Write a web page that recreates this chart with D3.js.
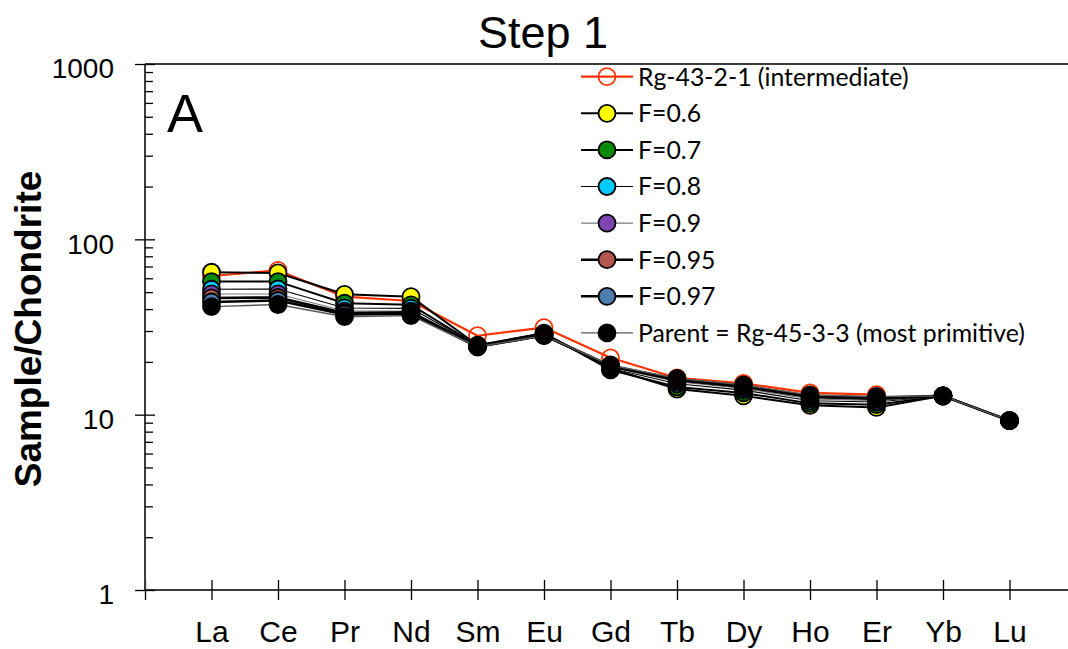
<!DOCTYPE html>
<html>
<head>
<meta charset="utf-8">
<script src="https://cdn.jsdelivr.net/npm/d3@7"></script>
<style>
  body { margin: 0; background: #fff; }
  svg text { font-family: "Liberation Sans", Arial, Helvetica, sans-serif; fill: #000; }
  .legend text { font-family: Lato, "Liberation Sans", sans-serif; }
</style>
</head>
<body>
<svg id="chart" width="1068" height="649"></svg>
<script>
// Rare earth elements on the x axis
const elements = ["La", "Ce", "Pr", "Nd", "Sm", "Eu", "Gd", "Tb", "Dy", "Ho", "Er", "Yb", "Lu"];

// Chondrite-normalised concentrations
const rg43 =   [61.8, 66.5, 47.1, 44.5, 28.2, 31.4, 21.1, 16.2, 15.1, 13.3, 13.0, null, null];
const f060 =   [64.9, 64.3, 48.6, 47.1, 24.9, 29.0, 18.3, 14.0, 12.8, 11.3, 11.0, 12.8, 9.25];
const f070 =   [57.4, 57.4, 43.2, 42.3, 24.8, 29.2, 18.0, 14.4, 13.3, 11.6, 11.4, 12.8, 9.25];
const f080 =   [51.9, 52.1, 40.6, 40.4, 24.7, 28.9, 18.4, 15.0, 13.8, 12.0, 11.8, 12.8, 9.25];
const f090 =   [48.8, 48.8, 39.0, 39.0, 24.6, 28.6, 18.7, 15.4, 14.1, 12.3, 12.0, 12.8, 9.25];
const f095 =   [46.3, 46.6, 38.0, 38.3, 24.5, 28.4, 18.9, 15.7, 14.4, 12.6, 12.3, 12.8, 9.25];
const f097 =   [43.9, 44.8, 37.3, 37.5, 24.4, 28.3, 19.0, 15.9, 14.6, 12.75, 12.5, 12.8, 9.25];
const parent = [41.3, 42.5, 36.2, 36.7, 24.4, 28.2, 19.2, 16.1, 14.8, 12.95, 12.7, 12.8, 9.25];

const seriesLabels = [
  "Rg-43-2-1 (intermediate)", "F=0.6", "F=0.7", "F=0.8", "F=0.9",
  "F=0.95", "F=0.97", "Parent = Rg-45-3-3 (most primitive)"
];
const yTickValues = [1, 10, 100, 1000];

// Styles for each series: marker fill, marker stroke, line colour, line width
const styles = [
  { fill: "none",    stroke: "#FF3300", line: "#FF3300", lw: 2.2, open: true },
  { fill: "#FFFF00", stroke: "#000",    line: "#000",    lw: 2.0 },
  { fill: "#0A8A0A", stroke: "#000",    line: "#000",    lw: 2.0 },
  { fill: "#00CCFF", stroke: "#000",    line: "#000",    lw: 1.1 },
  { fill: "#7E44B2", stroke: "#000",    line: "#7a7a7a", lw: 1.1 },
  { fill: "#B2564E", stroke: "#000",    line: "#000",    lw: 2.6 },
  { fill: "#4E7DB0", stroke: "#000",    line: "#000",    lw: 2.6 },
  { fill: "#000000", stroke: "#000",    line: "#5a5a5a", lw: 1.4 }
];

const seriesValues = [rg43, f060, f070, f080, f090, f095, f097, parent];
const series = seriesValues.map((vals, i) => ({
  label: seriesLabels[i],
  style: styles[i],
  points: vals.map((v, j) => ({ pos: j + 1, v }))
}));

const svg = d3.select("#chart");

// Scales: categories sit at 1..13 on a linear axis that starts at the y axis
const x = d3.scaleLinear().domain([0, 14]).range([145, 1076]);
const y = d3.scaleLog().domain([1, 1000]).range([590, 64]);
const right = 1068;

// Frame lines (bottom axis, top border)
const frame = svg.append("g").attr("stroke", "#3c3c3c").attr("stroke-width", 2);
frame.append("line").attr("x1", x(0)).attr("x2", right).attr("y1", y(1)).attr("y2", y(1));
frame.append("line").attr("x1", x(0)).attr("x2", right).attr("y1", y(1000)).attr("y2", y(1000));

// X axis with crossing ticks
const xAxis = d3.axisBottom(x)
  .tickValues(d3.range(0, 14))
  .tickSize(10)
  .tickFormat(d => (d >= 1 ? elements[d - 1] : ""));
const gx = svg.append("g").attr("transform", `translate(0,${y(1)})`).call(xAxis);
gx.select(".domain").remove();
gx.selectAll(".tick line").attr("y1", -10).attr("stroke", "#000").attr("stroke-width", 1.3);
gx.selectAll(".tick text")
  .attr("y", 52).attr("dy", null)
  .style("font-size", "30px")
  .style("font-family", "'Liberation Sans', Arial, sans-serif")
  .attr("fill", "#000");

// Y axis: major ticks cross the axis, labels to the left
const yAxis = d3.axisLeft(y)
  .tickValues(yTickValues)
  .tickSize(10)
  .tickPadding(21)
  .tickFormat(d3.format("d"));
const gy = svg.append("g").attr("transform", `translate(${x(0)},0)`).call(yAxis);
gy.select(".domain").attr("stroke", "#3c3c3c").attr("stroke-width", 2).attr("d", `M0,${y(1000)}V${y(1)}`);
gy.selectAll(".tick line").attr("x1", 10).attr("stroke", "#000").attr("stroke-width", 1.3);
gy.selectAll(".tick text")
  .attr("y", 5)
  .style("font-size", "28px")
  .style("font-family", "'Liberation Sans', Arial, sans-serif")
  .attr("fill", "#000");

// Minor ticks inside the plot
const minorValues = [];
[1, 10, 100].forEach(b => { for (let k = 2; k <= 9; k++) minorValues.push(b * k); });
const gMinor = svg.append("g").attr("transform", `translate(${x(0)},0)`)
  .call(d3.axisRight(y).tickValues(minorValues).tickSize(8).tickFormat(""));
gMinor.select(".domain").remove();
gMinor.selectAll(".tick line").attr("stroke", "#000").attr("stroke-width", 1.3);

// Series: line first, then markers, drawn in legend order
const line = d3.line()
  .defined(d => d.v != null)
  .x(d => x(d.pos))
  .y(d => y(d.v));

const R = 8.5;
series.forEach(s => {
  const g = svg.append("g");
  g.append("path")
    .attr("d", line(s.points))
    .attr("fill", "none")
    .attr("stroke", s.style.line)
    .attr("stroke-width", s.style.lw)
    .attr("stroke-linejoin", "round");
  g.selectAll("circle")
    .data(s.points.filter(d => d.v != null))
    .join("circle")
    .attr("cx", d => x(d.pos))
    .attr("cy", d => y(d.v))
    .attr("r", R)
    .attr("fill", s.style.fill)
    .attr("stroke", s.style.stroke)
    .attr("stroke-width", 1.8);
});

// Legend
const legend = svg.append("g").attr("class", "legend");
series.forEach((s, i) => {
  const ly = 76.7 + i * 36.6;
  const row = legend.append("g").attr("transform", `translate(0,${ly})`);
  row.append("line")
    .attr("x1", 581).attr("x2", 633).attr("y1", 0).attr("y2", 0)
    .attr("stroke", s.style.line).attr("stroke-width", s.style.lw);
  row.append("circle")
    .attr("cx", 607).attr("cy", 0).attr("r", R)
    .attr("fill", s.style.fill).attr("stroke", s.style.stroke)
    .attr("stroke-width", 1.8);
  row.append("text")
    .attr("x", 638).attr("y", 0).attr("dy", "0.36em")
    .style("font-size", "24.8px")
    .text(s.label);
});

// Title, panel letter and y-axis label
svg.append("text")
  .attr("x", 543).attr("y", 48)
  .attr("text-anchor", "middle")
  .style("font-size", "45px")
  .text("Step 1");

svg.append("text")
  .attr("x", 167).attr("y", 132)
  .style("font-size", "54px")
  .text("A");

svg.append("text")
  .attr("transform", `translate(41,329) rotate(-90)`)
  .attr("text-anchor", "middle")
  .style("font-size", "37px")
  .style("font-weight", "bold")
  .text("Sample/Chondrite");
</script>
</body>
</html>
